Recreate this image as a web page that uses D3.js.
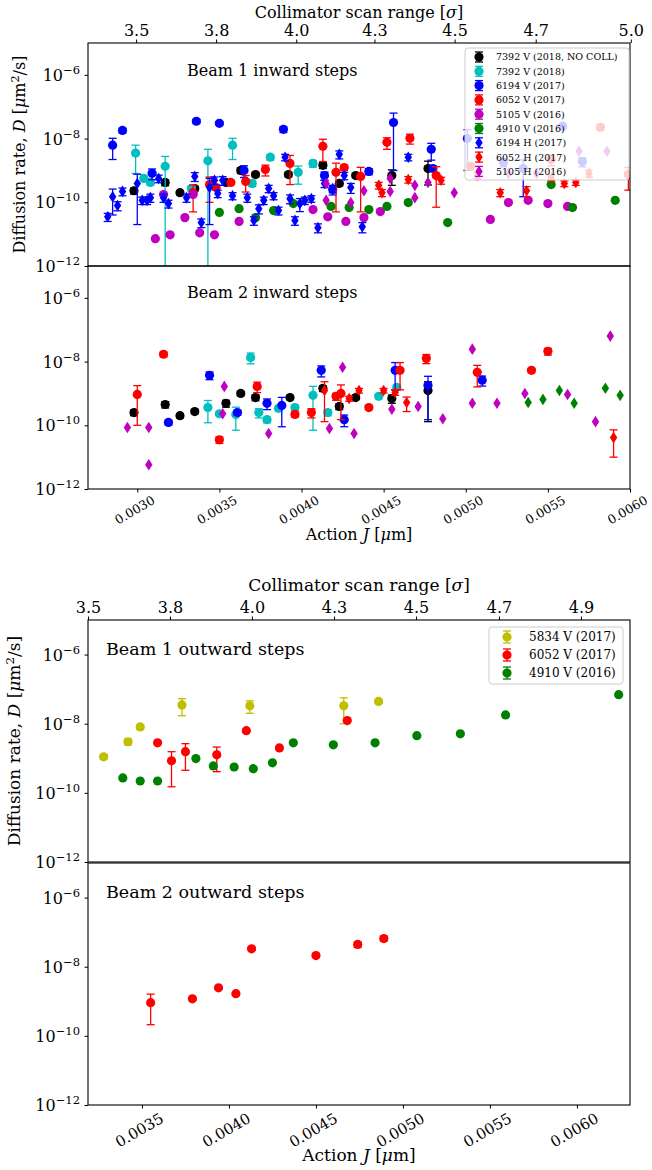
<!DOCTYPE html>
<html lang="en">
<head>
<meta charset="utf-8">
<title>Diffusion rate vs action</title>
<script src="https://d3js.org/d3.v7.min.js"></script>
<style>
body { margin: 0; background: #fff; }
svg text { font-family: "DejaVu Serif", serif; fill: #000; }
</style>
</head>
<body>
<script>
// each point: [action J (um), diffusion rate D (um^2/s), yerr]

// Beam 1 inward steps
const b1in_7392nc = [[0.00298,2.3e-10,5e-11],[0.00317,4.2e-10,9e-11],[0.00326,2.0e-10,3e-11],[0.00335,2.7e-10,4e-11],
  [0.00354,4.2e-10,6e-11],[0.00363,1.0e-9,2e-10],[0.00372,7.4e-10,1e-10],[0.00392,7.4e-10,1e-10],[0.00413,1.45e-9,3e-10],
  [0.00423,3.9e-10,6e-11],[0.00433,6.9e-10,1e-10],[0.00455,6.9e-10,3.5e-10],[0.00477,1.15e-9,8e-10]];
const b1in_7392 = [[0.00299,3.5e-9,2.7e-9],[0.00304,5.6e-10,1e-10],[0.00308,4.2e-10,8e-11],[0.00317,1.35e-9,1.4e-9],
  [0.00333,2.7e-10,5e-11],[0.00343,2.0e-9,2.6e-9],[0.00358,6.2e-9,4e-9],[0.00370,3.9e-10,8e-11],[0.00381,2.6e-9,5e-10],
  [0.00398,8.7e-10,5e-10],[0.00407,1.66e-9,4e-10]];
const b1in_6194v = [[0.00285,6.2e-9,4e-9],[0.00291,1.8e-8,3e-9],[0.00309,8.1e-10,3e-10],[0.00336,3.5e-8,5e-9],
  [0.00350,3.0e-8,4e-9],[0.00365,1.0e-9,4e-10],[0.00389,1.95e-8,4e-9],[0.00414,6.9e-10,2e-10],[0.00419,2.5e-10,8e-11],
  [0.00441,9.3e-10,2e-10],[0.00456,3.2e-8,3.1e-8],[0.00479,4.6e-9,2.5e-9],[0.00480,1.15e-9,2e-10],[0.00501,1.0e-8,9e-9],
  [0.00523,1.8e-9,5e-10],[0.00535,1.15e-9,1.0e-9],[0.00559,2.45e-8,3e-9],[0.00571,1.9e-9,6e-10]];
const b1in_6052v = [[0.00334,2.0e-10,1.5e-10],[0.00344,3.6e-10,2.6e-10],[0.00348,2.9e-10,5e-11],[0.00357,4.2e-10,6e-11],
  [0.00366,4.5e-10,2.4e-10],[0.00378,1.07e-9,4e-10],[0.00393,1.66e-9,1.3e-9],[0.00413,5.7e-9,3.8e-9],[0.00421,8.7e-10,8.2e-10],
  [0.00426,1.23e-9,2e-10],[0.00436,6.5e-10,6e-10],[0.00452,7.6e-9,3e-9],[0.00466,1.02e-8,3.5e-9],[0.00482,6.9e-10,6.2e-10],
  [0.00503,1.35e-9,3e-10],[0.00552,2.2e-9,8e-10],[0.00582,2.25e-8,4e-9],[0.00599,7.4e-10,5e-10]];
const b1in_5105v = [[0.00311,7.2e-12,0],[0.00316,1.75e-10,0],[0.00320,9.5e-12,0],[0.00329,3.3e-11,0],[0.00334,1.75e-10,0],
  [0.00338,1.1e-11,0],[0.00347,9.5e-12,0],[0.00362,2.5e-11,0],[0.00407,5.9e-11,0],[0.00416,3.5e-11,0],[0.00427,2.5e-11,0],
  [0.00438,3.3e-11,0],[0.00448,5.1e-11,0],[0.00515,2.9e-11,0],[0.00526,9.8e-11,0],[0.00538,1.15e-10,0],[0.00550,9.1e-11,0],
  [0.00562,7.4e-11,0]];
const b1in_4910v = [[0.00350,4.8e-11,0],[0.00362,6.3e-11,0],[0.00372,3.3e-11,0],[0.00383,5.5e-11,0],[0.00395,9.1e-11,0],
  [0.00418,7.4e-11,0],[0.00429,6.8e-11,0],[0.00441,5.9e-11,0],[0.00452,7.4e-11,0],[0.00465,9.8e-11,0],[0.00489,2.3e-11,0],
  [0.00552,3.6e-10,0],[0.00565,6.8e-11,0],[0.00591,1.15e-10,0]];
const b1in_6194h = [[0.00282,3.5e-11,1e-11],[0.00285,1.5e-10,1.1e-10],[0.00288,7.9e-11,2.5e-11],[0.00291,2.2e-10,6e-11],
  [0.00300,3.9e-10,3.7e-10],[0.00303,1.15e-10,3e-11],[0.00306,1.15e-10,3e-11],[0.00308,1.4e-10,4e-11],[0.00313,5.6e-10,1.5e-10],
  [0.00316,1.4e-10,4e-11],[0.00319,9.1e-11,2.5e-11],[0.00330,1.4e-10,4e-11],[0.00335,6.5e-10,2e-10],[0.00339,2.3e-11,7e-12],
  [0.00344,2.9e-10,2.7e-10],[0.00347,4.9e-10,1.3e-10],[0.00349,1.9e-10,5e-11],[0.00352,4.9e-10,1.5e-10],[0.00358,1.6e-10,4e-11],
  [0.00367,1.4e-10,4e-11],[0.00371,2.7e-11,8e-12],[0.00374,6.3e-11,2e-11],[0.00377,1.15e-10,3e-11],[0.00380,2.7e-10,7e-11],
  [0.00383,1.6e-10,4e-11],[0.00386,5.5e-11,1.5e-11],[0.00390,2.6e-9,6e-10],[0.00393,1.3e-10,4e-11],[0.00396,2.7e-11,8e-12],
  [0.00399,9.1e-11,4e-11],[0.00402,1.15e-10,3e-11],[0.00406,1.3e-10,3e-11],[0.00410,1.6e-11,5e-12],[0.00414,3.9e-10,1e-10],
  [0.00419,2.7e-10,7e-11],[0.00423,3.2e-9,9e-10],[0.00426,6.9e-10,1.8e-10],[0.00430,2.9e-10,1e-10],[0.00437,1.7e-11,6e-12],
  [0.00465,2.6e-9,6e-10]];
const b1in_6052h = [[0.00447,3.4e-10,8e-11],[0.00449,2.0e-10,5e-11],[0.00465,5.2e-10,1.2e-10],[0.00485,4.9e-10,1.2e-10],
  [0.00507,6.9e-10,1.5e-10],[0.00521,2.0e-10,5e-11],[0.00537,2.3e-10,8e-11],[0.00552,6.0e-10,1.2e-10],[0.00560,3.9e-10,8e-11],
  [0.00567,4.2e-10,8e-11],[0.00575,8.1e-10,2e-10]];
const b1in_5105h = [[0.00415,3.9e-10,0],[0.00415,1.15e-10,0],[0.00430,9.8e-11,0],[0.00438,2.3e-10,0],[0.00454,5.6e-10,0],
  [0.00454,2.2e-10,0],[0.00469,3.4e-10,0],[0.00469,1.4e-10,0],[0.00477,4.2e-10,0],[0.00493,2.0e-10,0],[0.00526,8.1e-10,0],
  [0.00543,8.1e-10,0],[0.00569,4.0e-9,0],[0.00586,4.0e-9,0]];

// Beam 2 inward steps
const b2in_7392nc = [[0.00298,2.5e-10,5e-11],[0.00317,4.5e-10,1e-10],[0.00326,2.0e-10,3e-11],[0.00335,2.7e-10,4e-11],
  [0.00354,4.9e-10,1.2e-10],[0.00363,1.0e-9,1.5e-10],[0.00372,7.4e-10,1.5e-10],[0.00393,7.4e-10,1e-10],[0.00413,1.45e-9,3e-10],
  [0.00423,3.9e-10,8e-11],[0.00433,7.4e-10,1e-10],[0.00455,6.9e-10,2e-10],[0.00477,1.23e-9,1.1e-9]];
const b2in_7392 = [[0.00343,3.6e-10,2.4e-10],[0.00350,2.3e-10,3e-11],[0.00360,2.2e-10,1.5e-10],[0.00369,1.35e-8,5e-9],
  [0.00374,2.5e-10,8e-11],[0.00379,1.5e-10,3e-11],[0.00386,3.4e-10,6e-11],[0.00396,3.6e-10,6e-11],[0.00407,8.7e-10,8e-10],
  [0.00416,2.5e-10,5e-11],[0.00447,8.1e-10,1.2e-10],[0.00458,1.55e-9,3e-10]];
const b2in_6194v = [[0.00319,1.23e-10,2e-11],[0.00344,3.7e-9,1e-9],[0.00361,2.5e-10,4e-11],[0.00379,4.9e-10,1.8e-10],
  [0.00388,4.2e-10,3.3e-10],[0.00412,5.3e-9,2e-9],[0.00426,1.5e-10,6e-11],[0.00457,5.3e-9,4e-9],[0.00477,1.8e-9,1.65e-9],
  [0.00510,2.6e-9,9e-10]];
const b2in_6052v = [[0.00300,9.3e-10,8.3e-10],[0.00316,1.7e-8,3e-9],[0.00350,3.5e-11,8e-12],[0.00373,1.66e-9,6e-10],
  [0.00396,2.2e-10,4e-11],[0.00406,2.5e-10,8e-11],[0.00421,8.1e-10,2e-10],[0.00424,1.0e-9,8.5e-10],[0.00441,3.6e-10,5e-11],
  [0.00460,5.3e-9,4e-9],[0.00476,1.26e-8,4e-9],[0.00507,4.6e-9,3e-9],[0.00540,5.3e-9,8e-10],[0.00550,2.1e-8,5e-9]];
const b2in_5105h = [[0.00294,8.5e-11,0],[0.00307,8.5e-11,0],[0.00307,5.8e-12,0],[0.00353,1.66e-9,0],[0.00352,2.3e-10,0],
  [0.00380,5.5e-11,0],[0.00417,7.9e-11,0],[0.00425,6.6e-9,0],[0.00432,5.5e-11,0],[0.00455,3.2e-10,0],[0.00471,3.9e-10,0],
  [0.00486,1.6e-10,0],[0.00504,2.45e-8,0],[0.00504,4.9e-10,0],[0.00519,4.9e-10,0],[0.00536,1.0e-9,0],[0.00562,9.3e-10,0],
  [0.00579,1.3e-10,0],[0.00588,6.3e-8,0]];
const b2in_6052h = [[0.00414,1.23e-9,1.1e-9],[0.00429,6.9e-10,1.2e-10],[0.00435,1.23e-9,2e-10],[0.00450,1.23e-9,2e-10],
  [0.00457,1.07e-9,2e-10],[0.00464,5.2e-10,2.5e-10],[0.00590,4.1e-11,3.1e-11]];
const b2in_4910h = [[0.00538,5.2e-10,0],[0.00547,6.5e-10,0],[0.00557,1.23e-9,0],[0.00566,4.9e-10,0],[0.00585,1.45e-9,0],
  [0.00594,8.7e-10,0]];

// Beam 1 outward steps
const b1out_5834v = [[0.00328,1.1e-9,1.5e-10],[0.00342,3.0e-9,6e-10],[0.00349,8.1e-9,1.2e-9],[0.00373,3.5e-8,1.8e-8],
  [0.00412,3.3e-8,1.3e-8],[0.00466,3.3e-8,2.3e-8],[0.00486,4.4e-8,5e-9]];
const b1out_6052v = [[0.00359,2.8e-9,0],[0.00367,8.5e-10,7e-10],[0.00375,1.55e-9,1.1e-9],[0.00393,1.26e-9,8.5e-10],
  [0.00410,6.3e-9,0],[0.00429,2.0e-9,0],[0.00468,1.23e-8,0]];
const b1out_4910v = [[0.00339,2.7e-10,0],[0.00349,2.2e-10,0],[0.00359,2.2e-10,0],[0.00381,9.8e-10,0],[0.00391,6.0e-10,0],
  [0.00403,5.6e-10,0],[0.00414,5.0e-10,0],[0.00425,7.4e-10,0],[0.00437,2.8e-9,0],[0.00460,2.45e-9,0],[0.00484,2.8e-9,0],
  [0.00508,4.5e-9,0],[0.00533,5.1e-9,0],[0.00559,1.8e-8,0],[0.00624,6.9e-8,0]];

// Beam 2 outward steps
const b2out_6052v = [[0.00355,9.1e-10,7e-10],[0.00379,1.18e-9,1e-10],[0.00394,2.45e-9,2e-10],[0.00404,1.66e-9,1.5e-10],
  [0.00413,3.3e-8,3e-9],[0.00450,2.1e-8,2e-9],[0.00474,4.4e-8,8e-9],[0.00489,6.5e-8,1e-8]];

// axis ticks
const bottom1Ticks = [0.0030, 0.0035, 0.0040, 0.0045, 0.0050, 0.0055, 0.0060];
const bottom2Ticks = [0.0035, 0.0040, 0.0045, 0.0050, 0.0055, 0.0060];
const top1J = [0.002993, 0.003480, 0.003968, 0.004444, 0.004932, 0.005426, 0.006005];
const top1Labels = ["3.5", "3.8", "4.0", "4.3", "4.5", "4.7", "5.0"];
const top2J = [0.00319, 0.003661, 0.004132, 0.004604, 0.005075, 0.005552, 0.006023];
const top2Labels = ["3.5", "3.8", "4.0", "4.3", "4.5", "4.7", "4.9"];
const yTicks = [1e-6, 1e-8, 1e-10, 1e-12];

// legends
const legend1Keys = ["7392nc", "7392v", "6194v", "6052v", "5105v", "4910v", "6194h", "6052h", "5105h"];
const legend1Labels = ["7392 V (2018, NO COLL)", "7392 V (2018)", "6194 V (2017)", "6052 V (2017)", "5105 V (2016)",
  "4910 V (2016)", "6194 H (2017)", "6052 H (2017)", "5105 H (2016)"];
const legend2Keys = ["5834v", "6052v", "4910v"];
const legend2Labels = ["5834 V (2017)", "6052 V (2017)", "4910 V (2016)"];

// marker styles (matplotlib classic colours)
const styles = {
  "7392nc": {color: "#000000", shape: "o"},
  "7392v": {color: "#00bfbf", shape: "o"},
  "6194v": {color: "#0000ff", shape: "o"},
  "6052v": {color: "#ff0000", shape: "o"},
  "5105v": {color: "#bf00bf", shape: "o"},
  "4910v": {color: "#008000", shape: "o"},
  "5834v": {color: "#bfbf00", shape: "o"},
  "6194h": {color: "#0000ff", shape: "d"},
  "6052h": {color: "#ff0000", shape: "d"},
  "5105h": {color: "#bf00bf", shape: "d"},
  "4910h": {color: "#008000", shape: "d"}
};

const W = 652, H = 1170, left = 88, right = 630;

const svg = d3.select("body").append("svg")
  .attr("width", W).attr("height", H)
  .style("background", "#fff");

const diamond = "M0,-5.8L3.7,0L0,5.8L-3.7,0Z";

function drawMarker(g, st, cx, cy) {
  if (st.shape === "o") {
    g.append("circle").attr("cx", cx).attr("cy", cy).attr("r", 4.6).attr("fill", st.color);
  } else {
    g.append("path").attr("d", diamond).attr("transform", `translate(${cx},${cy})`).attr("fill", st.color);
  }
}

let clipId = 0;
function drawPanel(fig, x, p) {
  const y = d3.scaleLog().domain([1e-12, 1e-5]).range([p.bottom, p.top]);
  const id = "clip" + (clipId++);
  svg.append("clipPath").attr("id", id).append("rect")
    .attr("x", left).attr("y", p.top).attr("width", right - left).attr("height", p.bottom - p.top);
  const plot = svg.append("g").attr("clip-path", `url(#${id})`);

  p.series.forEach(([data, key]) => {
    const st = styles[key];
    const g = plot.append("g");
    const eb = data.filter(d => d[2] > 0);
    g.selectAll("line.bar").data(eb).join("line")
      .attr("x1", d => x(d[0])).attr("x2", d => x(d[0]))
      .attr("y1", d => d[1] - d[2] > 0 ? y(d[1] - d[2]) : p.bottom + 20)
      .attr("y2", d => y(d[1] + d[2]))
      .attr("stroke", st.color).attr("stroke-width", 1.3);
    g.selectAll("line.capt").data(eb).join("line")
      .attr("x1", d => x(d[0]) - 4).attr("x2", d => x(d[0]) + 4)
      .attr("y1", d => y(d[1] + d[2])).attr("y2", d => y(d[1] + d[2]))
      .attr("stroke", st.color).attr("stroke-width", 1.3);
    g.selectAll("line.capb").data(eb.filter(d => d[1] - d[2] > 0)).join("line")
      .attr("x1", d => x(d[0]) - 4).attr("x2", d => x(d[0]) + 4)
      .attr("y1", d => y(d[1] - d[2])).attr("y2", d => y(d[1] - d[2]))
      .attr("stroke", st.color).attr("stroke-width", 1.3);
    data.forEach(d => drawMarker(g, st, x(d[0]), y(d[1])));
  });

  // left axis with 10^n labels
  const ax = svg.append("g").attr("transform", `translate(${left},0)`)
    .call(d3.axisLeft(y).tickValues(yTicks).tickSize(3.5).tickFormat(""));
  ax.select(".domain").remove();
  ax.selectAll(".tick line").attr("stroke", "#000");
  ax.selectAll(".tick").each(function(d) {
    const t = d3.select(this).append("text")
      .attr("x", -8).attr("y", 5.5).attr("text-anchor", "end").attr("font-size", 16);
    t.append("tspan").text("10");
    t.append("tspan").attr("dy", -7).attr("font-size", 11.5).text("\u2212" + (-Math.round(Math.log10(d))));
  });

  svg.append("text").attr("x", p.tx).attr("y", p.ty)
    .attr("font-size", p.fs).text(p.title);

  svg.append("rect").attr("x", left).attr("y", p.top)
    .attr("width", right - left).attr("height", p.bottom - p.top)
    .attr("fill", "none").attr("stroke", "#000").attr("stroke-width", 1.1);
  return y;
}

function drawFigure(f) {
  const x = d3.scaleLinear().domain(f.xDomain).range([left, right]);
  f.panels.forEach(p => drawPanel(f, x, p));

  const top = f.panels[0].top, bottom = f.panels[1].bottom;

  // top axis: collimator scan range
  const tg = svg.append("g").attr("transform", `translate(0,${top})`)
    .call(d3.axisTop(x).tickValues(f.topJ).tickSize(3.5).tickPadding(4)
      .tickFormat((d, i) => f.topLab[i]));
  tg.select(".domain").remove();
  tg.selectAll(".tick line").attr("stroke", "#000");
  tg.selectAll(".tick text").attr("font-size", 16).attr("font-family", "DejaVu Serif").attr("fill", "#000");

  // bottom axis: action
  const bg = svg.append("g").attr("transform", `translate(0,${bottom})`)
    .call(d3.axisBottom(x).tickValues(f.xTicks).tickSize(3.5).tickFormat(d3.format(".4f")));
  bg.select(".domain").remove();
  bg.selectAll(".tick line").attr("stroke", "#000");
  bg.selectAll(".tick text")
    .attr("y", 0).attr("dy", "0.35em")
    .attr("transform", `translate(-3,${f.tickOff}) rotate(-30)`)
    .attr("font-size", f.tickFs).attr("font-family", "DejaVu Serif").attr("fill", "#000");

  // axis titles
  const tt = svg.append("text").attr("x", 359).attr("y", f.titleY)
    .attr("text-anchor", "middle").attr("font-size", f.labelFs);
  tt.append("tspan").text("Collimator scan range [");
  tt.append("tspan").attr("font-style", "italic").text("\u03c3");
  tt.append("tspan").text("]");

  const xl = svg.append("text").attr("x", 359).attr("y", f.xlabelY)
    .attr("text-anchor", "middle").attr("font-size", f.labelFs);
  xl.append("tspan").text("Action ");
  xl.append("tspan").attr("font-style", "italic").text("J");
  xl.append("tspan").text(" [");
  xl.append("tspan").attr("font-style", "italic").text("\u03bc");
  xl.append("tspan").text("m]");

  const p0 = f.panels[0];
  const yl = svg.append("text")
    .attr("transform", `translate(${f.ylabelX},${(p0.top + p0.bottom) / 2}) rotate(-90)`)
    .attr("text-anchor", "middle").attr("font-size", f.labelFs);
  yl.append("tspan").text("Diffusion rate, ");
  yl.append("tspan").attr("font-style", "italic").text("D");
  yl.append("tspan").text(" [");
  yl.append("tspan").attr("font-style", "italic").text("\u03bc");
  yl.append("tspan").text("m");
  yl.append("tspan").attr("dy", -6).attr("font-size", f.labelFs * 0.7).text("2");
  yl.append("tspan").attr("dy", 6).text("/s]");
}

function drawLegend(L) {
  const g = svg.append("g");
  g.append("rect").attr("x", L.x).attr("y", L.y).attr("width", L.w).attr("height", L.h)
    .attr("rx", 3).attr("fill", "#fff").attr("fill-opacity", 0.8)
    .attr("stroke", "#cccccc").attr("stroke-width", 1);
  L.keys.forEach((k, i) => {
    const st = styles[k];
    const cy = L.y0 + i * L.step, cx = L.mx;
    g.append("line").attr("x1", cx).attr("x2", cx).attr("y1", cy - L.eb).attr("y2", cy + L.eb)
      .attr("stroke", st.color).attr("stroke-width", 1.3);
    [cy - L.eb, cy + L.eb].forEach(yy => g.append("line")
      .attr("x1", cx - 4).attr("x2", cx + 4).attr("y1", yy).attr("y2", yy)
      .attr("stroke", st.color).attr("stroke-width", 1.3));
    drawMarker(g, st, cx, cy);
    g.append("text").attr("x", L.tx).attr("y", cy + L.fs * 0.36)
      .attr("font-size", L.fs).text(L.labels[i]);
  });
}

drawFigure({
  xDomain: [0.0027, 0.0060], xTicks: bottom1Ticks, topJ: top1J, topLab: top1Labels,
  titleY: 18, xlabelY: 540, ylabelX: 25, labelFs: 16, tickFs: 12.5, tickOff: 21,
  panels: [
    {top: 43, bottom: 266, title: "Beam 1 inward steps", tx: 187, ty: 76, fs: 16,
      series: [[b1in_7392nc, "7392nc"], [b1in_7392, "7392v"], [b1in_6194v, "6194v"], [b1in_6052v, "6052v"],
        [b1in_5105v, "5105v"], [b1in_4910v, "4910v"], [b1in_6194h, "6194h"], [b1in_6052h, "6052h"], [b1in_5105h, "5105h"]]},
    {top: 266, bottom: 489, title: "Beam 2 inward steps", tx: 187, ty: 298, fs: 16,
      series: [[b2in_7392nc, "7392nc"], [b2in_7392, "7392v"], [b2in_6194v, "6194v"], [b2in_6052v, "6052v"],
        [b2in_5105h, "5105h"], [b2in_6052h, "6052h"], [b2in_4910h, "4910h"]]}
  ]
});

drawLegend({x: 465, y: 48, w: 164, h: 132, y0: 57, step: 14.3, mx: 479, tx: 496, eb: 5, fs: 9.5,
  keys: legend1Keys, labels: legend1Labels});

drawFigure({
  xDomain: [0.00319, 0.006305], xTicks: bottom2Ticks, topJ: top2J, topLab: top2Labels,
  titleY: 591, xlabelY: 1161, ylabelX: 20, labelFs: 17, tickFs: 15, tickOff: 25,
  panels: [
    {top: 620, bottom: 862, title: "Beam 1 outward steps", tx: 106, ty: 655, fs: 17.5,
      series: [[b1out_5834v, "5834v"], [b1out_6052v, "6052v"], [b1out_4910v, "4910v"]]},
    {top: 863, bottom: 1105, title: "Beam 2 outward steps", tx: 106, ty: 898, fs: 17.5,
      series: [[b2out_6052v, "6052v"]]}
  ]
});

drawLegend({x: 489, y: 627, w: 134, h: 57, y0: 637, step: 18, mx: 507, tx: 529, eb: 6, fs: 12,
  keys: legend2Keys, labels: legend2Labels});
</script>
</body>
</html>
